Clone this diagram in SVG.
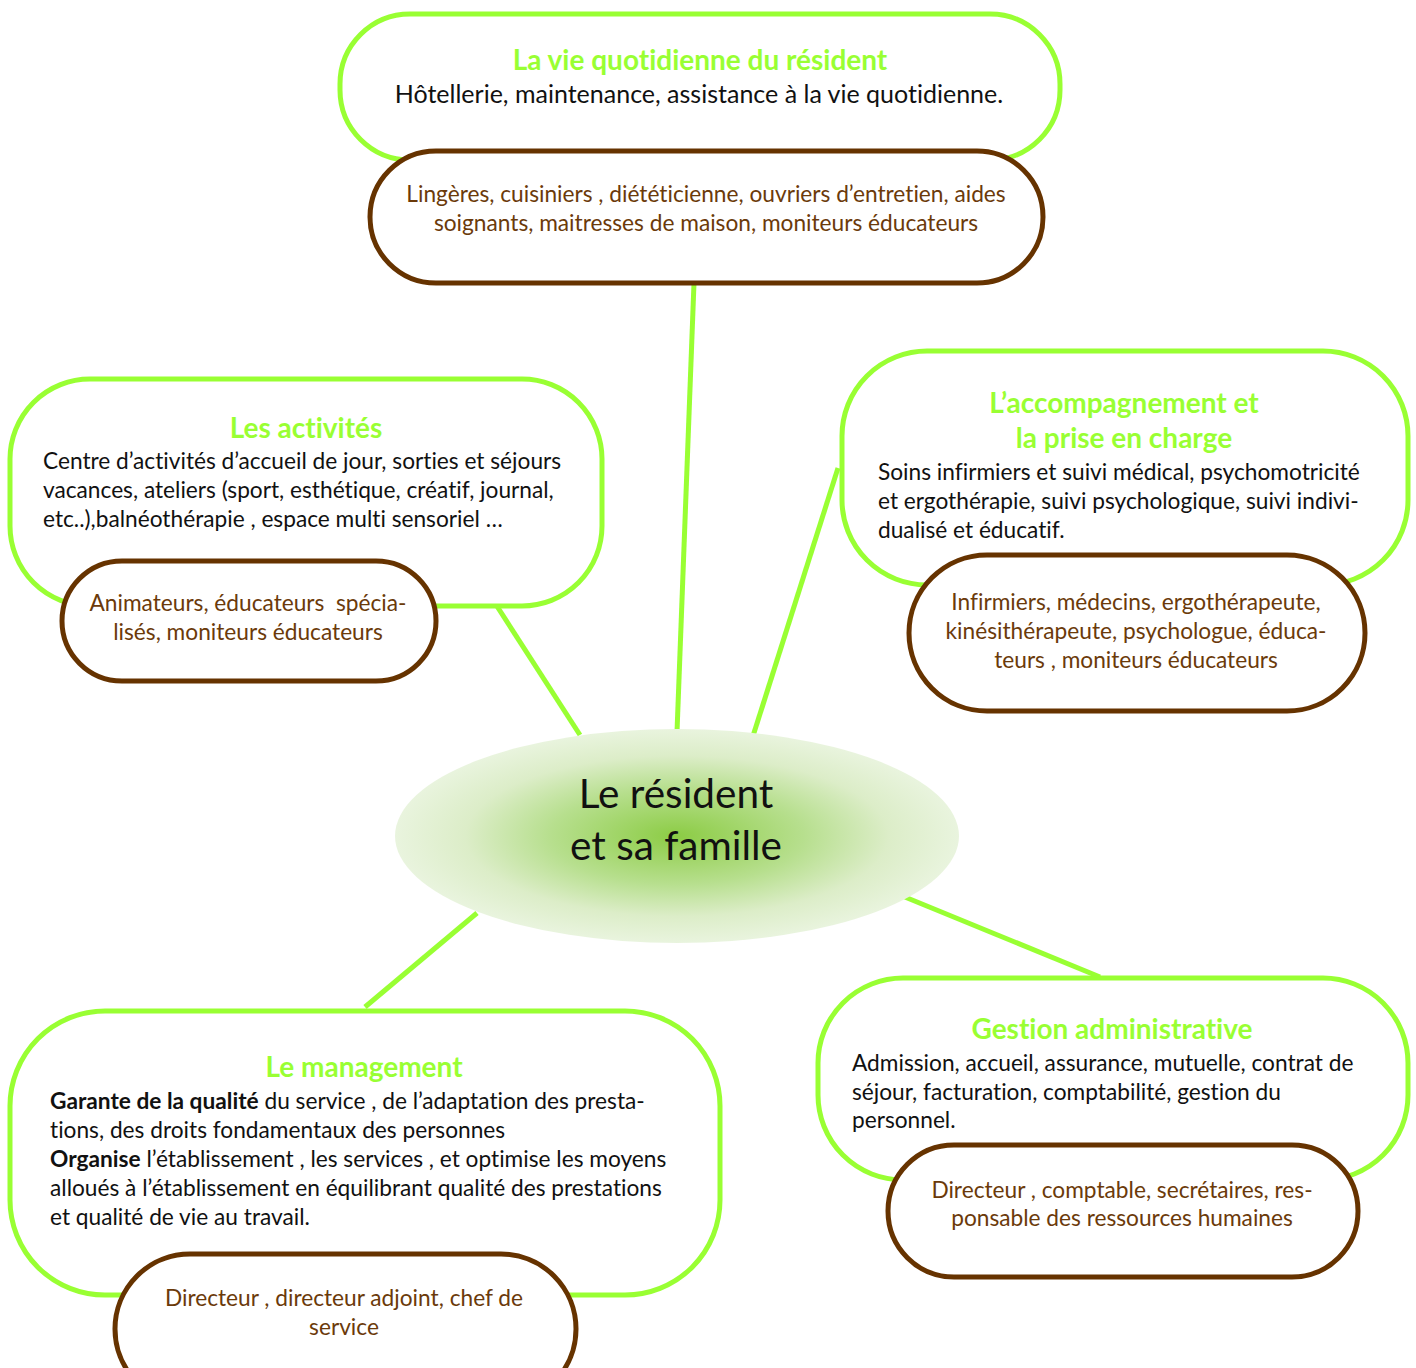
<svg xmlns="http://www.w3.org/2000/svg" width="1416" height="1368" viewBox="0 0 1416 1368">
<defs>
<radialGradient id="cg" cx="50%" cy="50%" r="50%">
<stop offset="0" stop-color="#8ccc45"/>
<stop offset="0.45" stop-color="#b7df8e"/>
<stop offset="0.75" stop-color="#dcedc8"/>
<stop offset="1" stop-color="#e9f4de"/>
</radialGradient>
<style>
.g{fill:#fff;stroke:#99ff33;stroke-width:5}
.b{fill:#fff;stroke:#663300;stroke-width:5}
.c{stroke:#99ff33;stroke-width:5;fill:none}
text{font-family:Lato,"Open Sans","Liberation Sans",sans-serif;font-variant-ligatures:none}
.t{fill:#99ff33;font-size:28px;font-weight:bold;text-anchor:middle}
.x{fill:#111;font-size:22.7px}
.xl{fill:#111;font-size:25px;text-anchor:middle}
.r{fill:#6b3a0a;font-size:22.7px;text-anchor:middle}
.bd{font-weight:bold}
.m{fill:#111;font-size:40.5px;text-anchor:middle}
</style>
</defs>
<rect width="1416" height="1368" fill="#fff"/>
<g id="connectors">
<line class="c" x1="694" y1="283" x2="677" y2="732"/>
<line class="c" x1="493" y1="600" x2="580" y2="735"/>
<line class="c" x1="838" y1="468" x2="753" y2="736"/>
<line class="c" x1="477" y1="913" x2="365" y2="1007"/>
<line class="c" x1="900" y1="895" x2="1100" y2="977"/>
</g>
<g id="vie">
<rect class="g" x="340" y="14" width="720" height="146" rx="70"/>
<text class="t" x="700" y="70">La vie quotidienne du résident</text>
<text class="xl" x="699" y="103">Hôtellerie, maintenance, assistance à la vie quotidienne.</text>
</g>
<g id="vie-pers">
<rect class="b" x="370" y="151" width="673" height="132" rx="66"/>
<text class="r" x="706" y="202">Lingères, cuisiniers , diététicienne, ouvriers d’entretien, aides</text>
<text class="r" x="706" y="231">soignants, maitresses de maison, moniteurs éducateurs</text>
</g>
<g id="activites">
<rect class="g" x="10" y="379" width="592" height="227" rx="80"/>
<text class="t" x="306" y="438">Les activités</text>
<text class="x" x="43" y="469">Centre d’activités d’accueil de jour, sorties et séjours</text>
<text class="x" x="43" y="498">vacances, ateliers (sport, esthétique, créatif, journal,</text>
<text class="x" x="43" y="527">etc..),balnéothérapie , espace multi sensoriel …</text>
</g>
<g id="activites-pers">
<rect class="b" x="62" y="561" width="374" height="120" rx="60"/>
<text class="r" x="248" y="611" xml:space="preserve">Animateurs, éducateurs  spécia-</text>
<text class="r" x="248" y="640">lisés, moniteurs éducateurs</text>
</g>
<g id="accompagnement">
<rect class="g" x="842" y="351" width="566" height="234" rx="85"/>
<text class="t" x="1124" y="413">L’accompagnement et</text>
<text class="t" x="1124" y="448">la prise en charge</text>
<text class="x" x="878" y="480">Soins infirmiers et suivi médical, psychomotricité</text>
<text class="x" x="878" y="509">et ergothérapie, suivi psychologique, suivi indivi-</text>
<text class="x" x="878" y="538">dualisé et éducatif.</text>
</g>
<g id="accompagnement-pers">
<rect class="b" x="909" y="555" width="456" height="156" rx="78"/>
<text class="r" x="1136" y="610">Infirmiers, médecins, ergothérapeute,</text>
<text class="r" x="1136" y="639">kinésithérapeute, psychologue, éduca-</text>
<text class="r" x="1136" y="668">teurs , moniteurs éducateurs</text>
</g>
<g id="resident">
<ellipse cx="677" cy="836" rx="282" ry="107" fill="url(#cg)"/>
<text class="m" x="676" y="808">Le résident</text>
<text class="m" x="676" y="860">et sa famille</text>
</g>
<g id="management">
<rect class="g" x="10" y="1011" width="710" height="284" rx="95"/>
<text class="t" x="364" y="1077">Le management</text>
<text class="x" x="50" y="1109"><tspan class="bd">Garante de la qualité</tspan> du service , de l’adaptation des presta-</text>
<text class="x" x="50" y="1138">tions, des droits fondamentaux des personnes</text>
<text class="x" x="50" y="1167"><tspan class="bd">Organise</tspan> l’établissement , les services , et optimise les moyens</text>
<text class="x" x="50" y="1196">alloués à l’établissement en équilibrant qualité des prestations</text>
<text class="x" x="50" y="1225">et qualité de vie au travail.</text>
</g>
<g id="management-pers">
<rect class="b" x="115" y="1254" width="461" height="150" rx="75"/>
<text class="r" x="344" y="1306">Directeur , directeur adjoint, chef de</text>
<text class="r" x="344" y="1335">service</text>
</g>
<g id="gestion">
<rect class="g" x="818" y="978" width="590" height="202" rx="85"/>
<text class="t" x="1112" y="1039">Gestion administrative</text>
<text class="x" x="852" y="1071">Admission, accueil, assurance, mutuelle, contrat de</text>
<text class="x" x="852" y="1100">séjour, facturation, comptabilité, gestion du</text>
<text class="x" x="852" y="1128">personnel.</text>
</g>
<g id="gestion-pers">
<rect class="b" x="888" y="1145" width="470" height="132" rx="66"/>
<text class="r" x="1122" y="1198">Directeur , comptable, secrétaires, res-</text>
<text class="r" x="1122" y="1226">ponsable des ressources humaines</text>
</g>
</svg>
